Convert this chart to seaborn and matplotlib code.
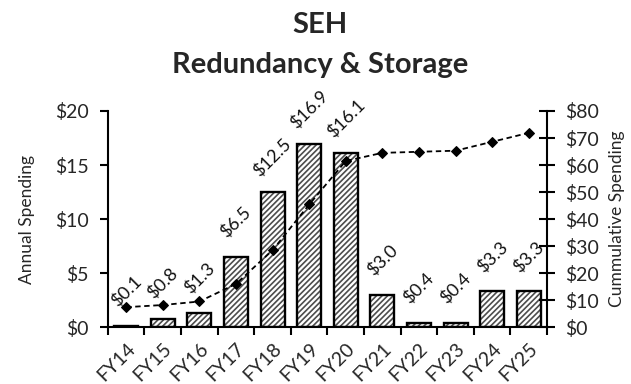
import matplotlib
matplotlib.use("Agg")
import matplotlib.pyplot as plt
import seaborn as sns
import pandas as pd
import numpy as np

years = ["FY14", "FY15", "FY16", "FY17", "FY18", "FY19",
         "FY20", "FY21", "FY22", "FY23", "FY24", "FY25"]
annual = [0.1, 0.8, 1.3, 6.5, 12.5, 16.9, 16.1, 3.0, 0.4, 0.4, 3.3, 3.3]
cumulative = [7.4, 8.2, 9.5, 16.0, 28.5, 45.4, 61.5, 64.5, 64.9, 65.3, 68.6, 71.9]

df = pd.DataFrame({"year": years, "annual": annual, "cumulative": cumulative})

sns.set_theme(style="white")
plt.rcParams["font.family"] = ["Lato", "DejaVu Sans"]
plt.rcParams["hatch.linewidth"] = 1.2
FS = 14
LFS = 12.5

fig = plt.figure(figsize=(6.31, 3.84), dpi=100)
ax = fig.add_axes([0.171, 0.148, 0.696, 0.563])

# hatched fill (hatch takes the edge colour), then black outlines on top
sns.barplot(data=df, x="year", y="annual", ax=ax, color="white",
            edgecolor="#4d4d4d", linewidth=0, hatch="//////", width=0.66,
            saturation=1)
sns.barplot(data=df, x="year", y="annual", ax=ax, fill=False,
            edgecolor="black", linewidth=1.7, width=0.66)

# value labels, centred a fixed distance above each bar
for i, v in enumerate(annual):
    ax.annotate(f"${v:.1f}", (i, v), xytext=(0, 25), textcoords="offset points",
                rotation=45, ha="center", va="center", rotation_mode="anchor",
                fontsize=FS - 1, color="#111111")

ax.set_xlim(-0.5, len(years) - 0.5)
ax.set_ylim(0, 20)
ax.set_yticks([0, 5, 10, 15, 20])
ax.set_yticklabels([f"${t}" for t in [0, 5, 10, 15, 20]], fontsize=FS)
ax.set_ylabel("Annual Spending", fontsize=LFS, labelpad=14)
ax.set_xlabel("")

# category labels at centres, tick marks at boundaries
ax.set_xticks(np.arange(len(years)))
ax.set_xticklabels(years, rotation=45, ha="right", rotation_mode="anchor",
                   fontsize=FS)
ax.set_xticks(np.arange(len(years) + 1) - 0.5, minor=True)
ax.tick_params(axis="x", which="major", length=0, pad=9)
ax.tick_params(axis="x", which="minor", length=6, width=1.5, color="black",
               direction="out", bottom=True)
ax.tick_params(axis="y", length=6, width=1.5, color="black", direction="out",
               left=True, pad=8)

ax2 = ax.twinx()
sns.lineplot(data=df, x="year", y="cumulative", ax=ax2, color="black",
             linestyle=(0, (3, 2)), linewidth=1.3, marker="D", markersize=5.5,
             markeredgecolor="black")
ax2.set_ylim(0, 80)
ax2.set_yticks(range(0, 81, 10))
ax2.set_yticklabels([f"${t}" for t in range(0, 81, 10)], fontsize=FS)
ax2.set_ylabel("Cummulative Spending", fontsize=LFS, labelpad=7)
ax2.tick_params(axis="y", length=12, width=1.5, color="black",
                direction="inout", right=True, pad=7)
ax2.set_xlim(-0.5, len(years) - 0.5)

for a in (ax, ax2):
    a.spines["top"].set_visible(False)
    for s in ("left", "right", "bottom"):
        a.spines[s].set_color("black")
        a.spines[s].set_linewidth(1.5)
ax.spines["right"].set_visible(False)
ax2.spines["left"].set_visible(False)
ax2.spines["bottom"].set_visible(False)

fig.text(0.507, 0.935, "SEH", ha="center", va="center", fontsize=21,
         fontweight="bold")
fig.text(0.507, 0.832, "Redundancy & Storage", ha="center", va="center",
         fontsize=21, fontweight="bold")

fig.savefig("out.png", dpi=100)
